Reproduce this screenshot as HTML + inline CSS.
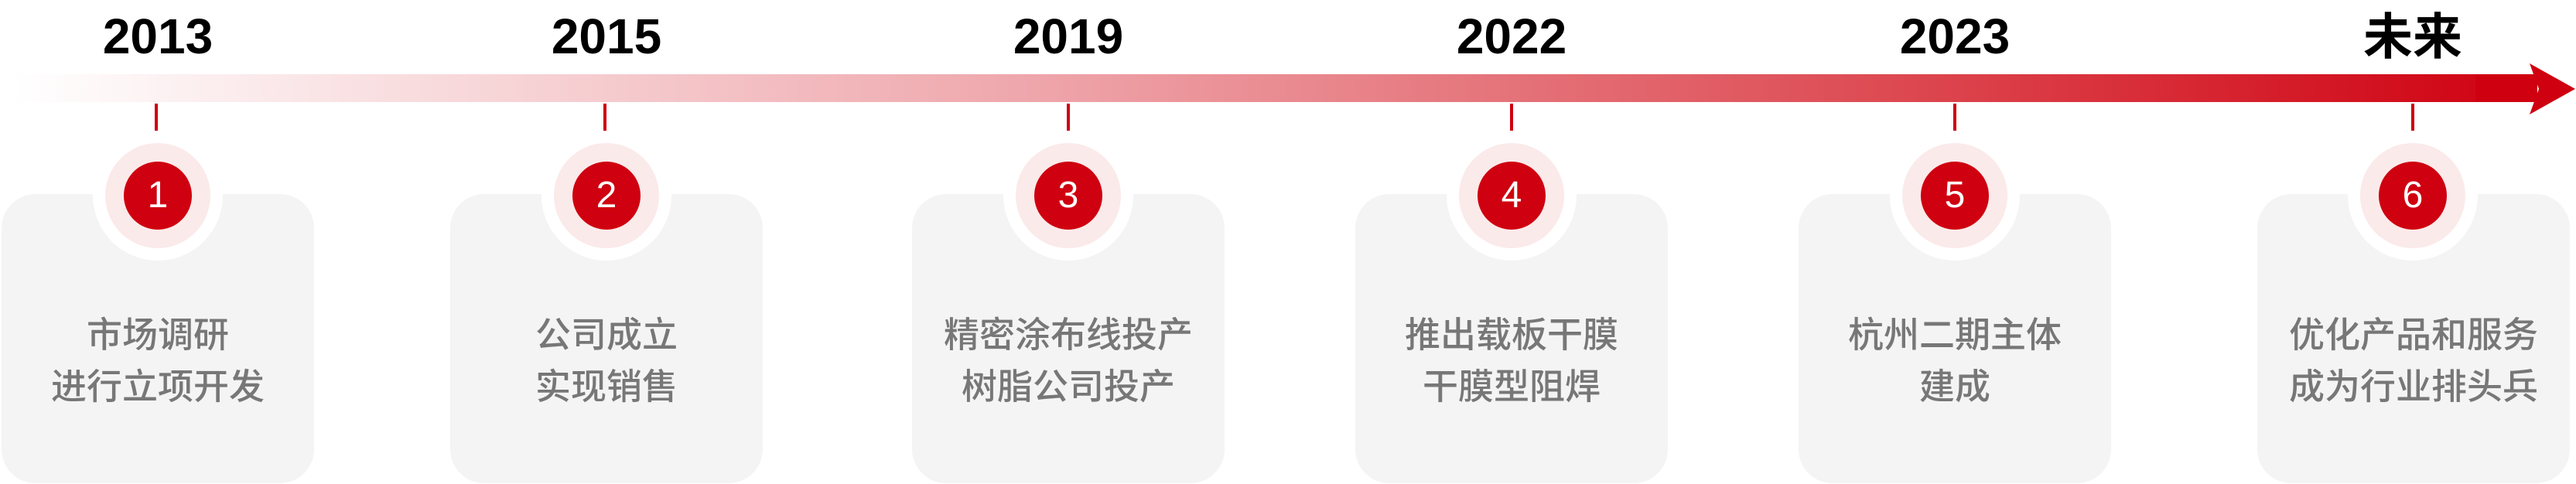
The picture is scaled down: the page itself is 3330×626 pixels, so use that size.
<!DOCTYPE html>
<html><head><meta charset="utf-8"><style>
html,body{margin:0;padding:0;background:#fff;}
#c{position:relative;width:3330px;height:626px;overflow:hidden;font-family:"Liberation Sans","Noto Sans CJK SC",sans-serif;}
.bar{position:absolute;left:17px;top:96px;width:3260px;height:36px;background:linear-gradient(90deg,rgba(207,0,16,0) 0%,rgba(222,80,90,0.5) 40%,rgba(215,40,50,0.85) 75%,#cf0010 100%);}
.head{position:absolute;left:0;top:0;}
.yr{position:absolute;top:12px;width:300px;margin-left:-150px;text-align:center;font-size:64px;font-weight:bold;color:#000;line-height:70px;}
.tick{position:absolute;top:134px;width:4px;margin-left:-2px;height:46px;background:#cf0010;}
.card{position:absolute;top:251px;width:404px;margin-left:-202px;height:374px;background:#f4f4f4;border-radius:44px;}
.ring{position:absolute;top:169px;width:168px;height:168px;margin-left:-84px;border-radius:50%;background:#fff;}
.pink{position:absolute;top:185px;width:136px;height:136px;margin-left:-68px;border-radius:50%;background:#fbeaea;}
.dot{position:absolute;top:209px;width:88px;height:88px;margin-left:-44px;border-radius:50%;background:#cf0010;color:#fff;font-size:48px;line-height:88px;text-align:center;}
.txt{position:absolute;top:400px;width:404px;margin-left:-202px;text-align:center;font-size:46px;line-height:67px;color:#777;font-weight:500;}
</style></head><body><div id="c">
<div class="bar"></div>
<svg class="head" width="3330" height="200"><polygon points="3270,82 3329,115 3270,148 3282,115" fill="#cf0010"/><rect x="3200" y="96" width="80" height="36" fill="#cf0010"/></svg>

<div class="yr" style="left:204px">2013</div>
<div class="yr" style="left:784px">2015</div>
<div class="yr" style="left:1381px">2019</div>
<div class="yr" style="left:1954px">2022</div>
<div class="yr" style="left:2527px">2023</div>
<div class="yr" style="left:3119px;font-family:'Noto Sans CJK SC',sans-serif;top:8px">未来</div>

<div class="tick" style="left:202px"></div>
<div class="tick" style="left:782px"></div>
<div class="tick" style="left:1381px"></div>
<div class="tick" style="left:1954px"></div>
<div class="tick" style="left:2527px"></div>
<div class="tick" style="left:3119px"></div>

<div class="card" style="left:204px"></div>
<div class="card" style="left:784px"></div>
<div class="card" style="left:1381px"></div>
<div class="card" style="left:1954px"></div>
<div class="card" style="left:2527px"></div>
<div class="card" style="left:3120px"></div>

<div class="ring" style="left:204px"></div><div class="pink" style="left:204px"></div><div class="dot" style="left:204px">1</div>
<div class="ring" style="left:784px"></div><div class="pink" style="left:784px"></div><div class="dot" style="left:784px">2</div>
<div class="ring" style="left:1381px"></div><div class="pink" style="left:1381px"></div><div class="dot" style="left:1381px">3</div>
<div class="ring" style="left:1954px"></div><div class="pink" style="left:1954px"></div><div class="dot" style="left:1954px">4</div>
<div class="ring" style="left:2527px"></div><div class="pink" style="left:2527px"></div><div class="dot" style="left:2527px">5</div>
<div class="ring" style="left:3119px"></div><div class="pink" style="left:3119px"></div><div class="dot" style="left:3119px">6</div>

<div class="txt" style="left:204px">市场调研<br>进行立项开发</div>
<div class="txt" style="left:784px">公司成立<br>实现销售</div>
<div class="txt" style="left:1381px">精密涂布线投产<br>树脂公司投产</div>
<div class="txt" style="left:1954px">推出载板干膜<br>干膜型阻焊</div>
<div class="txt" style="left:2527px">杭州二期主体<br>建成</div>
<div class="txt" style="left:3120px">优化产品和服务<br>成为行业排头兵</div>
</div></body></html>
